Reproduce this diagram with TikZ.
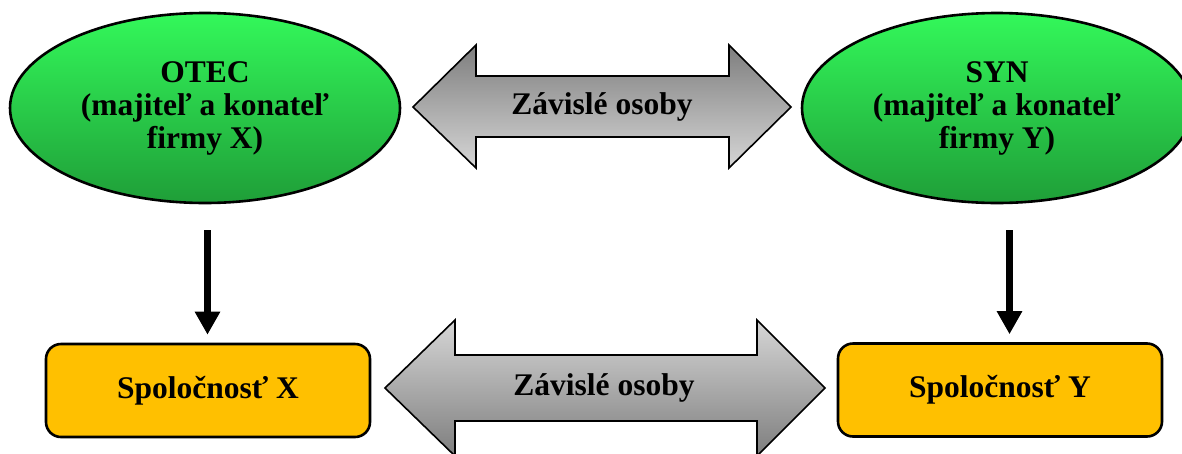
\documentclass[tikz,border=0pt]{standalone}
\usepackage{fontspec}
\setmainfont{Liberation Serif}
\usetikzlibrary{shapes.geometric,arrows.meta}
\definecolor{gtop}{HTML}{33F85A}
\definecolor{gbot}{HTML}{1F9E38}
\definecolor{boxfill}{HTML}{FFC000}
\definecolor{darkgrey}{HTML}{7E7E7E}
\definecolor{lightgrey}{HTML}{D6D6D6}
\tikzset{
  person/.style={ellipse, draw=black, line width=2.6pt, top color=gtop, bottom color=gbot,
    minimum width=390pt, minimum height=190pt, align=center, inner sep=0pt,
    font=\fontsize{31.5}{33}\selectfont\bfseries},
  company/.style={rectangle, rounded corners=15pt, draw=black, line width=2.6pt, fill=boxfill,
    minimum width=324pt, minimum height=93pt, font=\fontsize{31.5}{33}\selectfont\bfseries},
  darrow/.style={draw=black, line width=1.6pt},
  alabel/.style={font=\fontsize{31.5}{33}\selectfont\bfseries, inner sep=0pt},
  down/.style={line width=7pt, -{Triangle[width=24pt,length=23pt]}}
}
\begin{document}
\begin{tikzpicture}[x=1pt,y=-1pt]
\useasboundingbox (0,0) rectangle (1182,453);
\fill[white] (0,0) rectangle (1182,453);
% ellipses
\node[person] (otec) at (205,108) {OTEC\\(majiteľ a konateľ\\firmy X)};
\node[person] (syn) at (997,108) {SYN\\(majiteľ a konateľ\\firmy Y)};
% boxes
\node[company] (spolx) at (208,390.5) {Spoločnosť X};
\node[company] (spoly) at (1000,390) {Spoločnosť Y};
% top double arrow
\path[darrow, top color=darkgrey, bottom color=lightgrey]
  (413,107) -- (476,45) -- (476,76) -- (729,76) -- (729,45) -- (791,107)
  -- (729,168) -- (729,137) -- (476,137) -- (476,168) -- cycle;
\node[alabel] (top) at (602,107) {Závislé osoby};
% bottom double arrow
\path[darrow, top color=lightgrey, bottom color=darkgrey]
  (385,388) -- (455,320) -- (455,355) -- (757,355) -- (757,320) -- (825,388)
  -- (757,456) -- (757,421) -- (455,421) -- (455,456) -- cycle;
\node[alabel] (bot) at (604,388) {Závislé osoby};
% down arrows
\draw[down, shorten <=26pt, shorten >=8pt] ([xshift=2.5pt]otec.south) -- ([xshift=2.5pt]otec.south |- spolx.north);
\draw[down, shorten <=26pt, shorten >=8pt] ([xshift=12.5pt]syn.south) -- ([xshift=12.5pt]syn.south |- spoly.north);
\end{tikzpicture}
\end{document}
